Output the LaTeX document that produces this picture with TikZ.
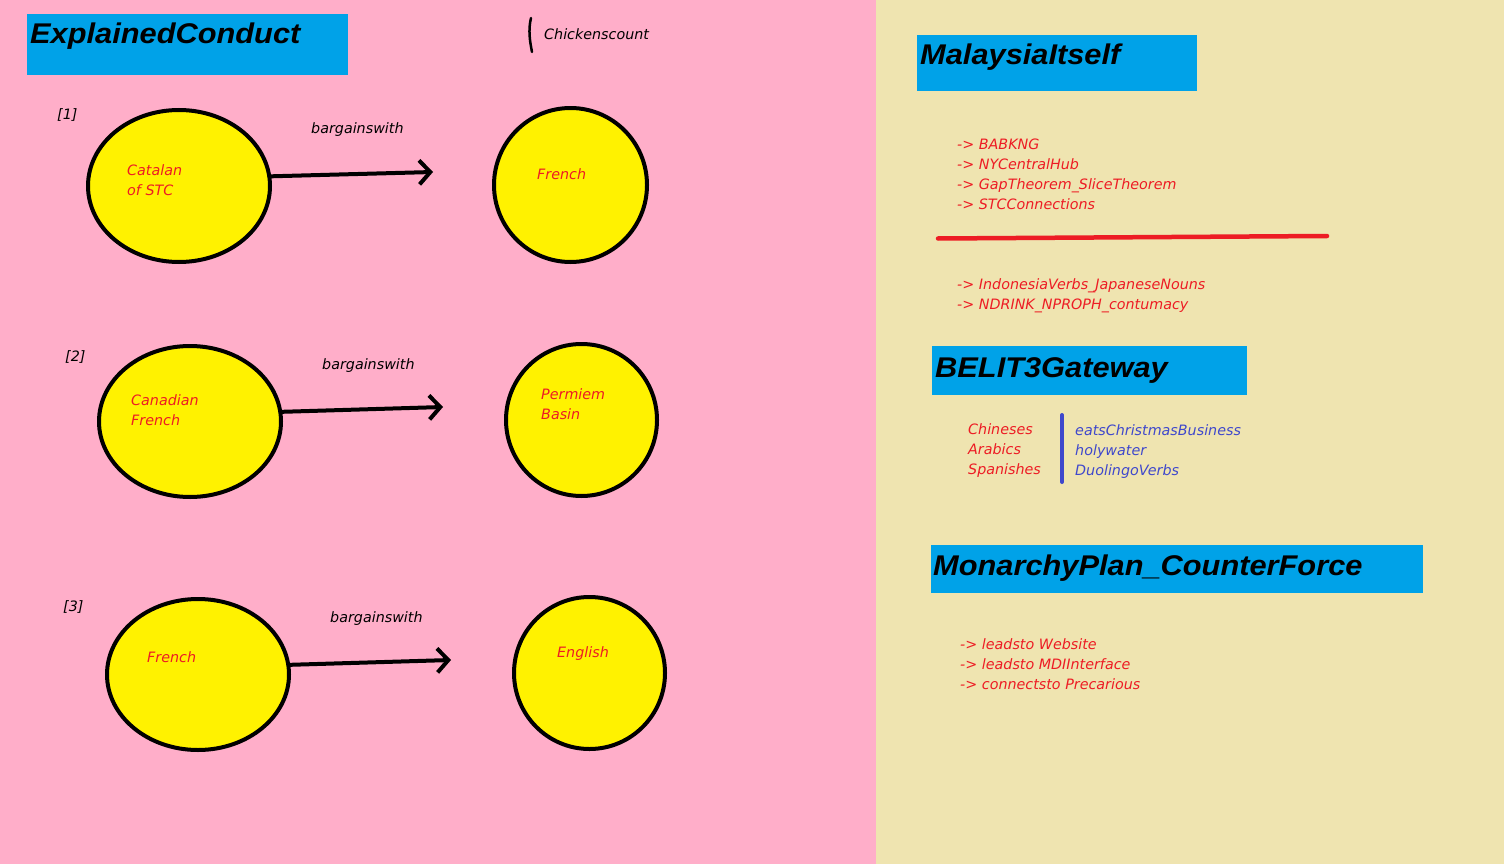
\documentclass[tikz,border=0pt]{standalone}
\usepackage{fontspec}
\setmainfont{DejaVu Sans}
\newfontfamily\headfont{Liberation Sans}[FakeStretch=1.08]
\usetikzlibrary{shapes.geometric, arrows.meta}
\definecolor{rosebg}{HTML}{FFAEC9}
\definecolor{tanbg}{HTML}{EFE4B0}
\definecolor{paintblue}{HTML}{00A2E8}
\definecolor{paintyellow}{HTML}{FFF200}
\definecolor{paintred}{HTML}{ED1C24}
\definecolor{paintindigo}{HTML}{3F48CC}
\tikzset{>={Straight Barb[length=11pt,width=24pt]}}
\tikzset{lang/.style={ellipse, draw, line width=4pt, fill=paintyellow, inner sep=0pt}}
\tikzset{bargain/.style={->, line width=4pt, line cap=round}}
\tikzset{headbox/.style={fill=paintblue}}
\tikzset{headtxt/.style={anchor=base west, inner sep=0pt, font=\headfont\fontsize{28.5}{29}\selectfont\bfseries\itshape}}
\tikzset{note/.style={anchor=base west, inner sep=0pt, align=left, font=\fontsize{14.3}{20}\selectfont\itshape}}
\tikzset{rednote/.style={note, text=paintred}}
\tikzset{bluenote/.style={note, text=paintindigo}}

\begin{document}
\begin{tikzpicture}[x=1pt, y=-1pt, line join=round]
\useasboundingbox (0,0) rectangle (1504,864);
\fill[rosebg] (0,0) rectangle (876,864);
\fill[tanbg] (876,0) rectangle (1504,864);

% left panel
\fill[headbox] (27,14) rectangle (348,75);
\node[headtxt] (explained) at (30,43.5) {ExplainedConduct};
\draw[line width=2.5pt, line cap=round] (531,18) .. controls (528,30) and (530,42) .. (532,52);
\node[note] (chickens) at (544,40) {Chickenscount};

\node[note] (n1) at (57,120) {[1]};
\node[lang, minimum width=182, minimum height=152] (catalan) at (179,186) {};
\node[lang, minimum width=153, minimum height=154] (french1) at (570.5,185) {};
\coordinate (tip1) at (433,172);
\draw[bargain] (catalan.6) -- (tip1);
\node[note] (bw1) at (311,134) {bargainswith};
\node[rednote] (catalantxt) at (127,195) {Catalan\\of STC};
\node[rednote] (french1txt) at (537,179) {French};

\node[note] (n2) at (65,361) {[2]};
\node[lang, minimum width=182, minimum height=151] (canadian) at (190,421.5) {};
\node[lang, minimum width=151, minimum height=152] (permiem) at (581.5,420) {};
\coordinate (tip2) at (443,407);
\draw[bargain] (canadian.6) -- (tip2);
\node[note] (bw2) at (322,369) {bargainswith};
\node[rednote] (canadiantxt) at (131,425) {Canadian\\French};
\node[rednote] (permiemtxt) at (541,419) {Permiem\\Basin};

\node[note] (n3) at (63,611) {[3]};
\node[lang, minimum width=182, minimum height=151] (french3) at (198,674.5) {};
\node[lang, minimum width=151, minimum height=152] (english) at (589.5,673) {};
\coordinate (tip3) at (451,660);
\draw[bargain] (french3.6) -- (tip3);
\node[note] (bw3) at (330,622) {bargainswith};
\node[rednote] (french3txt) at (147,662) {French};
\node[rednote] (englishtxt) at (557,657) {English};

% right panel
\fill[headbox] (917,35) rectangle (1197,91);
\node[headtxt] (malaysia) at (920,65) {MalaysiaItself};
\node[rednote] (links) at (957,209) {-> BABKNG\\-> NYCentralHub\\-> GapTheorem\_SliceTheorem\\-> STCConnections};
\draw[paintred, line width=4.5pt, line cap=round] (938,238.5) -- (1327,236);
\node[rednote] (links2) at (957,309) {-> IndonesiaVerbs\_JapaneseNouns\\-> NDRINK\_NPROPH\_contumacy};

\fill[headbox] (932,346) rectangle (1247,395);
\node[headtxt] (belit) at (935,377) {BELIT3Gateway};
\node[rednote] (langs) at (968,474) {Chineses\\Arabics\\Spanishes};
\draw[paintindigo, line width=4pt, line cap=round] (1062,415) -- (1062,482);
\node[bluenote] (uses) at (1075,475) {eatsChristmasBusiness\\holywater\\DuolingoVerbs};

\fill[headbox] (931,545) rectangle (1423,593);
\node[headtxt] (monarchy) at (933,575) {MonarchyPlan\_CounterForce};
\node[rednote] (leads) at (960,689) {-> leadsto Website\\-> leadsto MDIInterface\\-> connectsto Precarious};
\end{tikzpicture}
\end{document}
